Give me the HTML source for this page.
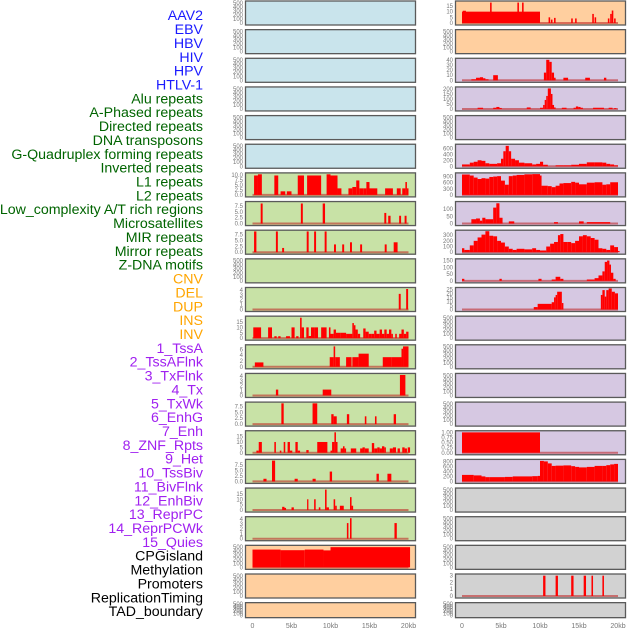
<!DOCTYPE html>
<html><head><meta charset="utf-8">
<style>
html,body{margin:0;padding:0;background:#fff;}
svg{display:block;}
</style></head>
<body>
<svg id="chart" width="630" height="630" xmlns="http://www.w3.org/2000/svg" font-family="Liberation Sans, sans-serif"></svg>
<script>
// ---------- data ----------
const trackLabels = ["AAV2","EBV","HBV","HIV","HPV","HTLV-1","Alu repeats","A-Phased repeats","Directed repeats","DNA transposons","G-Quadruplex forming repeats","Inverted repeats","L1 repeats","L2 repeats","Low_complexity A/T rich regions","Microsatellites","MIR repeats","Mirror repeats","Z-DNA motifs","CNV","DEL","DUP","INS","INV","1_TssA","2_TssAFlnk","3_TxFlnk","4_Tx","5_TxWk","6_EnhG","7_Enh","8_ZNF_Rpts","9_Het","10_TssBiv","11_BivFlnk","12_EnhBiv","13_ReprPC","14_ReprPCWk","15_Quies","CPGisland","Methylation","Promoters","ReplicationTiming","TAD_boundary"];
const labelColors = {virus:"#1a1aff",repeat:"#006400",sv:"#ffa500",state:"#a020f0",other:"#000000"};
const labelGroups = ["virus","virus","virus","virus","virus","virus","repeat","repeat","repeat","repeat","repeat","repeat","repeat","repeat","repeat","repeat","repeat","repeat","repeat","sv","sv","sv","sv","sv","state","state","state","state","state","state","state","state","state","state","state","state","state","state","state","other","other","other","other","other"];
const xTickValues = [0,5,10,15,20];
const xTickLabels = ["0","5kb","10kb","15kb","20kb"];

const emptyTicks = [0,100,200,300,400,500];
const emptyTickLabels = ["0","100","200","300","400","500"];

// segments: [startKb, endKb, value]
const segL6 = [[0.2,0.7,9.8],[0.7,1.2,10.4],[2.8,3.3,9.8],[3.6,4.2,1.8],[4.4,5.0,1.8],[5.8,6.6,9.8],[7.0,8.8,9.8],[9.5,10.0,10.4],[10.0,10.9,9.8],[10.9,11.4,3.3],[12.3,12.8,3.3],[12.8,13.3,4],[13.3,13.7,7.3],[13.7,14.2,3.3],[14.2,14.6,3.3],[14.6,15.0,6.5],[15.0,16.0,3.3],[17.0,18.0,3.3],[18.5,19.0,3.3],[19.2,19.6,3.3],[19.6,19.8,6.5],[19.8,20.0,3.3]];
const segL7 = [[1.05,1.3,8.5],[6.2,6.45,8.5],[9.0,9.3,8.5],[16.9,17.15,4.5],[17.4,17.7,3.3],[18.8,19.05,3.3],[19.5,19.75,3.3]];
const segL8 = [[0.2,0.5,8.8],[3.0,3.25,8.8],[3.8,4.05,1.8],[6.95,7.2,8.8],[7.9,8.15,8.8],[9.25,9.5,8.8],[10.45,10.7,3.3],[11.5,11.75,3.3],[12.5,12.75,4.2],[13.8,14.05,3.3],[16.95,17.2,3.3],[18.1,18.6,4.2]];
const segL10 = [[18.75,19.0,3.2],[19.7,19.95,4.2]];
const segL11 = [[0.1,1.1,10],[2.0,2.5,10],[2.8,3.1,1.8],[3.3,3.6,1.8],[4.3,4.8,1.8],[5.0,5.4,10],[5.6,5.9,1.8],[6.1,6.3,19],[6.3,6.6,10],[6.9,7.2,10],[7.2,7.5,2],[7.5,8.0,10],[8.0,8.4,10],[8.8,9.5,10],[9.8,10.0,10],[10.0,10.4,4],[10.4,10.7,8],[10.7,11.3,5],[11.3,12.0,5],[12.0,12.5,4],[12.5,12.8,4],[12.8,13.0,14],[13.0,13.2,12],[13.2,13.5,8],[13.5,13.8,4],[14.2,14.5,9],[14.5,14.9,6],[14.9,15.3,4],[15.3,15.6,4],[15.6,15.9,7],[15.9,16.3,4],[16.3,16.6,8],[16.6,16.9,4],[16.9,17.2,8],[17.2,17.5,4],[17.5,17.8,8],[17.8,18.0,4],[18.3,18.5,4],[18.8,19.1,4],[19.1,19.4,8],[19.4,19.7,4],[19.7,20.0,6]];
const segL12 = [[0.3,1.4,1.5],[9.9,10.4,3.3],[10.4,10.6,7],[10.6,11.2,3.3],[12.0,12.7,3.3],[12.8,13.6,3.3],[13.6,14.9,4.5],[16.7,17.8,3.3],[17.8,19.1,3.3],[19.1,19.3,6.2],[19.3,20.0,7]];
const segL13 = [[3.0,3.3,1.2],[9.0,10.1,1.2],[18.9,19.6,4.2]];
const segL14 = [[3.7,4.0,8.8],[7.7,8.3,8.8],[10.1,10.4,4.2],[10.4,10.8,3.3],[12.1,12.4,4.2],[14.4,14.6,3.3],[15.7,15.9,3.3],[18.1,18.4,4.2]];
const segL15 = [[0.5,0.8,2],[0.8,1.2,10],[2.8,3.0,10],[3.5,3.7,2],[4.0,4.2,10],[4.5,4.8,10],[4.8,5.1,2],[5.5,5.8,10],[5.8,6.1,2],[6.9,7.2,2.5],[8.3,9.6,10],[10.0,10.2,2],[10.2,10.5,10],[10.5,10.7,19],[10.7,10.9,10],[11.3,11.6,4],[11.6,11.8,6],[11.8,12.0,4],[12.6,13.3,4],[13.8,14.1,4],[14.1,14.4,5],[14.4,14.9,4],[15.3,15.6,9],[15.6,16.0,4],[16.0,16.3,5],[16.3,16.6,4],[16.6,16.9,6],[16.9,17.1,5],[17.6,18.0,4],[18.0,18.4,5],[18.6,18.9,4],[19.2,19.5,5],[19.5,19.8,4],[19.9,20.2,5]];
const segL16 = [[1.4,1.8,1.2],[2.5,2.9,9.5],[5.4,5.8,1.2],[7.7,8.1,1.2],[9.9,10.2,4.5],[15.9,16.2,3.5],[17.3,17.8,3.5]];
const segL17 = [[3.8,4.1,3],[4.1,4.3,2],[5.0,5.3,2.5],[7.0,7.15,10],[7.9,8.1,10],[8.5,8.7,2.5],[9.3,9.5,19],[9.5,9.8,2.5],[10.4,10.6,10],[10.6,10.8,4],[11.2,11.7,4],[12.5,12.7,12],[12.7,12.9,4]];
const segL18 = [[12.1,12.3,3.2],[12.5,12.7,4.2],[18.2,18.5,3.2]];
const segL19 = [[0,3.6,440],[3.6,6.7,425],[6.7,9.1,440],[9.1,10.0,420],[10.0,20.2,500]];

const segR0 = [[0,10,10],[0.1,0.5,10.8],[3.6,3.8,18],[7.1,7.3,18],[7.7,7.9,18],[11.1,11.3,5],[11.4,11.6,3],[11.8,12.0,4.5],[14.0,14.2,4],[14.5,14.7,4],[16.7,16.9,8],[17.0,17.2,5],[18.7,18.9,4],[19.0,19.2,8],[19.2,19.4,11],[19.5,19.7,4]];
const segR2 = [[1.2,1.8,2],[1.8,2.3,5],[2.3,2.7,6],[2.7,3.0,4],[3.0,3.4,2],[4.0,4.6,10],[10.5,10.8,15],[10.8,11.2,40],[11.2,11.5,36],[11.5,11.8,15],[11.8,12.0,5],[13.0,13.6,5],[15.8,16.4,5],[18.2,18.5,5]];
const segR3 = [[2.0,2.7,12],[4.0,4.4,12],[4.4,4.8,20],[4.8,5.1,10],[8.3,8.8,15],[10.0,10.4,12],[10.4,10.6,40],[10.6,10.8,90],[10.8,11.0,130],[11.0,11.4,205],[11.4,11.6,150],[11.6,11.8,40],[11.8,12.0,15],[12.8,13.4,12],[14.3,14.6,12],[14.6,14.9,25],[14.9,15.2,20],[15.2,15.5,12],[16.8,17.5,12],[17.5,18.2,12],[18.8,19.3,12],[19.5,19.8,8]];
const segR5 = [[0,1,60],[1,1.5,120],[1.5,2,150],[2,2.5,200],[2.5,3,180],[3,3.5,100],[3.5,4.5,80],[4.5,5,100],[5,5.3,250],[5.3,5.6,500],[5.6,6,680],[6,6.3,500],[6.3,6.8,250],[6.8,7.3,200],[7.3,8,120],[8,9,100],[9,9.5,60],[9.5,10,80],[10,10.4,150],[10.4,11,50],[12,13,30],[13,14,30],[14,15,50],[15,16,80],[16,17,130],[17,18,130],[18,18.5,120],[18.5,19,80],[19,19.5,60],[19.5,20,30]];
const segR6 = [[0,1,1000],[1,1.5,950],[1.5,2,850],[2,2.5,780],[2.5,3,820],[3,3.5,800],[3.5,4,880],[4,4.5,900],[4.5,5,920],[5,5.5,700],[5.5,6,500],[6,6.5,920],[6.5,7,950],[7,8,980],[8,9,1010],[9,10,1020],[10,10.2,950],[10.2,11,450],[11,11.5,430],[11.5,12,380],[12,12.5,450],[12.5,13,560],[13,14,580],[14,14.5,640],[14.5,15,600],[15,16,520],[16,17,600],[17,18,620],[18,18.5,500],[18.5,19,520],[19,20,620]];
const segR7 = [[1.2,1.8,30],[1.8,2.3,35],[2.3,2.6,20],[2.6,3.0,40],[3.0,4.0,30],[4.0,4.4,110],[4.4,4.8,140],[4.8,5.2,40],[6.0,6.7,15],[11.8,12.3,10],[15.0,15.6,15],[16.0,19.0,10]];
const segR8 = [[0,0.3,70],[0.3,1,40],[1,1.5,120],[1.5,2,200],[2,2.5,260],[2.5,3,310],[3,3.5,370],[3.5,4,290],[4,4.5,280],[4.5,5,200],[5,5.5,170],[5.5,6,100],[6,6.5,60],[6.5,7,40],[7,8,60],[8,9,50],[9,9.5,70],[9.5,10,40],[10,10.8,30],[10.8,11.3,100],[11.3,11.8,150],[11.8,12.3,180],[12.3,12.6,300],[12.6,13,320],[13,13.5,180],[13.5,14,180],[14,14.5,160],[14.5,15,200],[15,15.5,280],[15.5,16,300],[16,16.5,280],[16.5,17,250],[17,17.5,220],[17.5,18,70],[18,18.5,60],[18.5,19,40],[19,19.5,120],[19.5,20,90],[20,20.2,20]];
const segR9 = [[0,0.3,15],[4.8,5.1,15],[9.8,10.2,15],[11.5,12,10],[12,12.6,30],[12.6,13,15],[16,17,10],[17,17.5,20],[17.5,18,40],[18,18.3,70],[18.3,18.6,140],[18.6,18.9,150],[18.9,19.1,120],[19.1,19.4,60],[19.4,19.7,15]];
const segR10 = [[9.2,9.7,3],[9.7,11.5,7],[11.5,11.8,9],[11.8,12.0,15],[12.0,12.2,18],[12.2,12.8,22],[12.8,13.0,8],[17.8,18.0,18],[18.0,18.3,24],[18.3,18.5,16],[18.5,18.8,24],[18.8,19.2,26],[19.2,19.6,22],[19.6,20.0,20]];
const segR15 = [[0,10,1]];
const segR16 = [[0,1.5,260],[1.5,2.5,240],[2.5,3,200],[3,3.5,170],[3.5,5.5,170],[5.5,6.5,180],[6.5,9,200],[9,9.7,210],[9.7,10,220],[10,10.5,820],[10.5,11,800],[11,11.5,720],[11.5,12,620],[12,13,630],[13,14,640],[14,14.5,610],[14.5,15,580],[15,16,560],[16,17,580],[17,18,620],[18,18.5,620],[18.5,19,650],[19,19.5,680],[19.5,20,700]];
const segR20 = [[10.4,10.7,3],[12.0,12.3,3],[14.0,14.3,3],[15.6,15.9,3],[16.6,16.8,3],[18.0,18.2,3]];

const tk = {
  t10:[0,2.5,5,7.5,10], l10:["0.0","2.5","5.0","7.5","10.0"],
  t75:[0,2.5,5,7.5], l75:["0.0","2.5","5.0","7.5"],
  t4:[0,1,2,3,4], l4:["0","1","2","3","4"],
  t15:[0,5,10,15], l15:["0","5","10","15"],
  t6:[0,2,4,6], l6:["0","2","4","6"],
  t40:[0,10,20,30,40], l40:["0","10","20","30","40"],
  t200:[0,50,100,150,200], l200:["0","50","100","150","200"],
  t600:[0,200,400,600], l600:["0","200","400","600"],
  t900:[0,300,600,900], l900:["0","300","600","900"],
  t100:[0,50,100], l100:["0","50","100"],
  t300:[0,100,200,300], l300:["0","100","200","300"],
  t150:[0,50,100,150], l150:["0","50","100","150"],
  t25:[0,5,10,15,20,25], l25:["0","5","10","15","20","25"],
  t1:[0,0.25,0.5,0.75,1], l1:["0.00","0.25","0.50","0.75","1.00"],
  t800:[0,200,400,600,800], l800:["0","200","400","600","800"],
  t3:[0,1,2,3], l3:["0","1","2","3"]
};
const BG = {blue:"#c9e4ec",green:"#c8e2a6",orange:"#ffcf9f",purple:"#d6c8e2",gray:"#d2d2d2"};

// column tracks: [bg, ymax, ticks, tickLabels, segments]
const leftTracks = [
  ["blue",520,emptyTicks,emptyTickLabels,null],["blue",520,emptyTicks,emptyTickLabels,null],["blue",520,emptyTicks,emptyTickLabels,null],
  ["blue",520,emptyTicks,emptyTickLabels,null],["blue",520,emptyTicks,emptyTickLabels,null],["blue",520,emptyTicks,emptyTickLabels,null],
  ["green",10.6,tk.t10,tk.l10,segL6],["green",8.9,tk.t75,tk.l75,segL7],["green",8.9,tk.t75,tk.l75,segL8],
  ["green",520,emptyTicks,emptyTickLabels,null],["green",4.3,tk.t4,tk.l4,segL10],["green",19.5,tk.t15,tk.l15,segL11],
  ["green",7.2,tk.t6,tk.l6,segL12],["green",4.3,tk.t4,tk.l4,segL13],["green",8.9,tk.t75,tk.l75,segL14],
  ["green",19.5,tk.t15,tk.l15,segL15],["green",9.6,tk.t75,tk.l75,segL16],["green",19.5,tk.t15,tk.l15,segL17],
  ["green",4.3,tk.t4,tk.l4,segL18],["orange",520,emptyTicks,emptyTickLabels,segL19],
  ["orange",520,emptyTicks,emptyTickLabels,null],["orange",520,emptyTicks,emptyTickLabels,null]
];
const rightTracks = [
  ["orange",18.5,tk.t15,tk.l15,segR0],["orange",520,emptyTicks,emptyTickLabels,null],
  ["purple",41,tk.t40,tk.l40,segR2],["purple",210,tk.t200,tk.l200,segR3],["purple",520,emptyTicks,emptyTickLabels,null],
  ["purple",700,tk.t600,tk.l600,segR5],["purple",1030,tk.t900,tk.l900,segR6],["purple",145,tk.t100,tk.l100,segR7],
  ["purple",370,tk.t300,tk.l300,segR8],["purple",155,tk.t150,tk.l150,segR9],["purple",26,tk.t25,tk.l25,segR10],
  ["purple",520,emptyTicks,emptyTickLabels,null],["purple",520,emptyTicks,emptyTickLabels,null],["purple",520,emptyTicks,emptyTickLabels,null],
  ["purple",520,emptyTicks,emptyTickLabels,null],["purple",1.03,tk.t1,tk.l1,segR15],["purple",840,tk.t800,tk.l800,segR16],
  ["gray",520,emptyTicks,emptyTickLabels,null],["gray",520,emptyTicks,emptyTickLabels,null],["gray",520,emptyTicks,emptyTickLabels,null],
  ["gray",3.1,tk.t3,tk.l3,segR20],["gray",520,emptyTicks,emptyTickLabels,null]
];

// ---------- drawing ----------
const NS = "http://www.w3.org/2000/svg";
const svg = document.getElementById("chart");
function mk(tag, attrs, parent){
  const e = document.createElementNS(NS, tag);
  for (const k in attrs) e.setAttribute(k, attrs[k]);
  (parent||svg).appendChild(e);
  return e;
}

// labels
trackLabels.forEach((t,i)=>{
  const el = mk("text",{x:203,y:(20.2+i*13.86).toFixed(1),"text-anchor":"end","font-size":"14.2",fill:labelColors[labelGroups[i]]});
  el.textContent = t;
  
  
});

const columns = [{x0:245,zero:252.5,tracks:leftTracks,name:"left"},{x0:455,zero:462,tracks:rightTracks,name:"right"}];
const PXKB = 7.8;
columns.forEach(col=>{
  const xs = kb => col.zero + kb*PXKB;
  col.tracks.forEach((tr,r)=>{
    const [bg,ymax,ticks,tlabels,segs] = tr;
    const top = 0.5 + r*28.65;
    const h = (r===21) ? 16 : 25;
    const bottom = top + h;
    const y0 = bottom - 2.5, y1 = top + 1.5;
    const ys = v => y0 - (v/ymax)*(y0-y1);
    const g = mk("g",{});
    
    
    const bgr = mk("rect",{x:col.x0,y:top,width:171,height:h,fill:BG[bg]},g);
    
    
    if (segs){
      const base = mk("line",{x1:xs(0),x2:xs(20),y1:y0,y2:y0,stroke:"rgba(190,30,30,0.55)","stroke-width":2},g);
      
      
      segs.forEach(s=>{
        const xa = xs(s[0]), xb = xs(s[1]);
        const yv = ys(s[2]);
        const b = mk("rect",{x:xa.toFixed(2),y:yv.toFixed(2),width:Math.max(1.3,xb-xa).toFixed(2),height:Math.max(0.5,y0-yv).toFixed(2),fill:"#ff0000"},g);
        
        
      });
    }
    const border = mk("rect",{x:col.x0+0.5,y:top+0.5,width:170,height:h-1,fill:"none",stroke:"#5a5a5a","stroke-width":1.3},g);
    
    
    ticks.forEach((v,k)=>{
      const t = mk("text",{x:col.x0-2,y:(ys(v)+2).toFixed(1),"text-anchor":"end","font-size":"6",fill:"#777"},g);
      t.textContent = tlabels[k];
      
      
    });
  });
  xTickValues.forEach((v,k)=>{
    const t = mk("text",{x:xs(v).toFixed(1),y:628,"text-anchor":"middle","font-size":"7",fill:"#777"});
    t.textContent = xTickLabels[k];
    
    
  });
});
</script>
</body></html>
